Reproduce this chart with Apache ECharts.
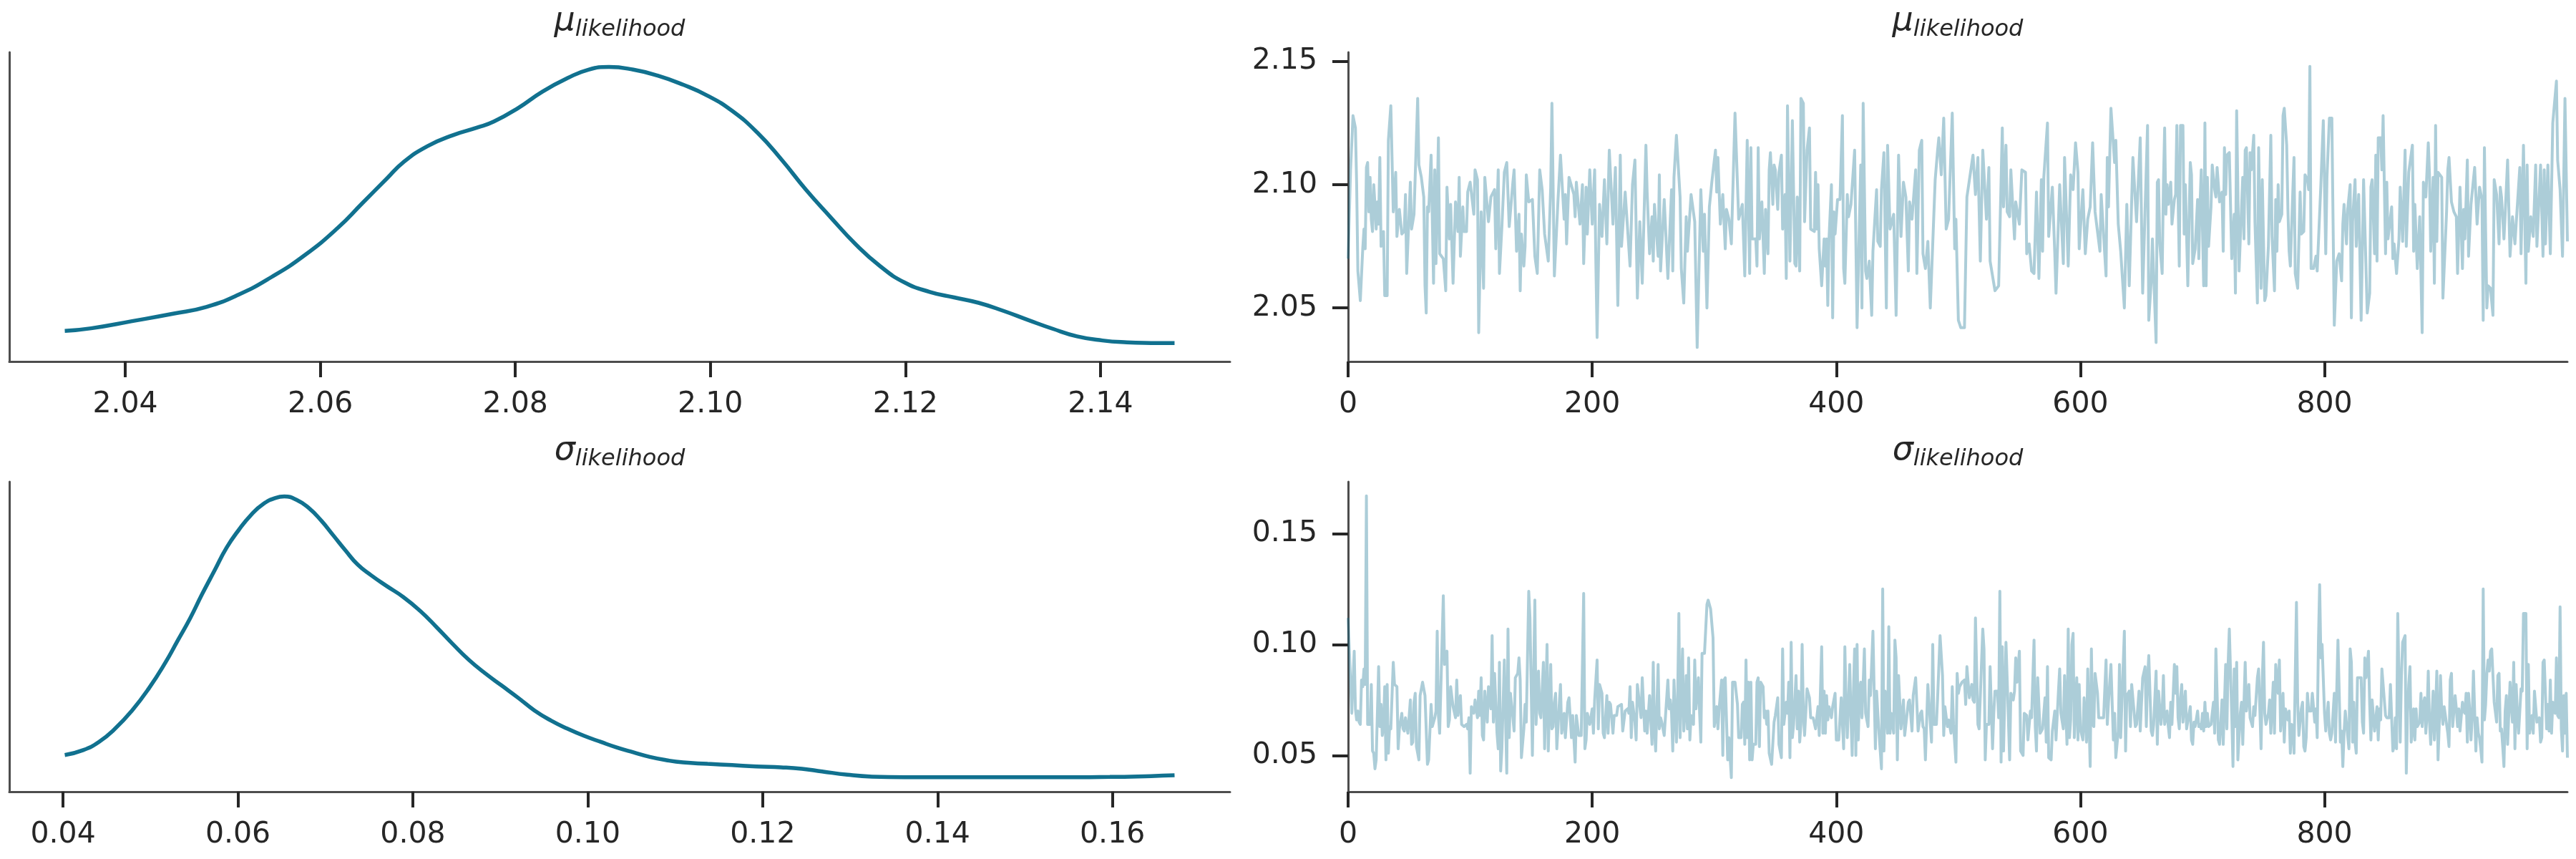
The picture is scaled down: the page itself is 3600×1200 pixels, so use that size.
<!DOCTYPE html>
<html><head><meta charset="utf-8">
<script src="https://cdn.jsdelivr.net/npm/echarts@6/dist/echarts.min.js"></script>
<style>html,body{margin:0;padding:0;background:#fff}#c{width:3600px;height:1200px}</style>
</head><body><div id="c"></div>
<script>
// ---------- data ----------
const muKdeX = [2.0338,2.0365,2.0407,2.0449,2.0483,2.0516,2.0550,2.0584,2.0618,2.0643,2.0668,2.0685,2.0710,2.0736,2.0761,2.0778,2.0803,2.0828,2.0854,2.0875,2.0896,2.0921,2.0946,2.0972,2.0997,2.1022,2.1048,2.1073,2.1098,2.1123,2.1149,2.1174,2.1199,2.1225,2.1250,2.1275,2.1301,2.1326,2.1351,2.1376,2.1402,2.1427,2.1452,2.1476];
const muKdeY = [1.93,2.10,2.55,3.02,3.45,4.22,5.34,6.72,8.45,10.00,11.55,12.59,13.62,14.31,14.79,15.17,16.03,17.07,17.93,18.45,18.62,18.45,18.07,17.50,16.81,15.86,14.48,12.76,10.86,9.14,7.41,6.03,5.00,4.40,4.05,3.71,3.19,2.62,2.07,1.59,1.33,1.21,1.17,1.16];
const sigmaKdeX = [0.0402,0.0423,0.0441,0.0460,0.0479,0.0498,0.0517,0.0531,0.0545,0.0559,0.0573,0.0587,0.0601,0.0615,0.0629,0.0643,0.0653,0.0667,0.0681,0.0695,0.0709,0.0723,0.0737,0.0752,0.0770,0.0789,0.0808,0.0827,0.0845,0.0864,0.0883,0.0902,0.0921,0.0939,0.0958,0.0977,0.0996,0.1015,0.1033,0.1052,0.1071,0.1090,0.1109,0.1137,0.1165,0.1193,0.1221,0.1245,0.1268,0.1297,0.1325,0.1362,0.1456,0.1550,0.1597,0.1644,0.1671];
const sigmaKdeY = [3.35,3.80,4.55,5.80,7.43,9.43,11.80,13.80,15.80,18.05,20.18,22.30,23.93,25.30,26.30,26.85,26.98,26.68,25.93,24.80,23.43,22.05,20.75,19.80,18.80,17.80,16.55,15.05,13.55,12.05,10.80,9.68,8.55,7.43,6.50,5.75,5.10,4.55,4.05,3.60,3.18,2.88,2.68,2.55,2.43,2.30,2.23,2.10,1.85,1.55,1.38,1.33,1.33,1.33,1.35,1.43,1.50];

// trace vertices: [draw, value]
const muTrace = [[0,2.070],[2,2.106],[4,2.128],[6,2.123],[7,2.100],[8,2.065],[10,2.053],[12,2.074],[13,2.082],[14,2.074],[15,2.107],[16,2.109],[17,2.089],[18,2.103],[19,2.086],[20,2.081],[21,2.100],[22,2.092],[23,2.082],[24,2.093],[25,2.084],[26,2.111],[27,2.075],[29,2.081],[30,2.055],[32,2.055],[33,2.118],[35,2.132],[37,2.089],[39,2.105],[40,2.079],[42,2.090],[44,2.080],[46,2.081],[47,2.096],[48,2.064],[51,2.101],[52,2.082],[54,2.088],[57,2.135],[58,2.108],[60,2.103],[62,2.095],[63,2.059],[64,2.048],[65,2.091],[66,2.089],[68,2.112],[70,2.060],[71,2.106],[72,2.068],[74,2.119],[75,2.072],[78,2.070],[80,2.057],[81,2.099],[83,2.078],[84,2.092],[86,2.060],[88,2.093],[90,2.081],[91,2.103],[92,2.071],[94,2.091],[95,2.081],[97,2.081],[98,2.097],[100,2.101],[103,2.088],[104,2.106],[106,2.102],[107,2.040],[109,2.089],[111,2.058],[112,2.103],[115,2.085],[117,2.095],[120,2.098],[121,2.074],[123,2.106],[124,2.064],[126,2.083],[128,2.105],[130,2.109],[132,2.083],[135,2.101],[136,2.106],[138,2.073],[140,2.088],[141,2.057],[142,2.080],[144,2.067],[145,2.075],[146,2.104],[148,2.093],[151,2.094],[153,2.071],[155,2.064],[157,2.106],[159,2.098],[161,2.080],[164,2.069],[166,2.099],[167,2.133],[169,2.063],[172,2.094],[174,2.112],[177,2.086],[178,2.096],[179,2.076],[181,2.103],[185,2.096],[186,2.087],[187,2.101],[190,2.084],[192,2.100],[193,2.068],[195,2.099],[196,2.080],[198,2.106],[200,2.084],[202,2.106],[203,2.068],[204,2.038],[206,2.092],[208,2.079],[210,2.102],[212,2.076],[214,2.114],[217,2.084],[219,2.107],[221,2.051],[223,2.112],[224,2.075],[227,2.097],[231,2.067],[233,2.100],[235,2.110],[237,2.054],[239,2.085],[241,2.060],[244,2.116],[245,2.097],[247,2.072],[249,2.087],[250,2.069],[251,2.092],[254,2.071],[255,2.104],[256,2.065],[259,2.094],[262,2.062],[265,2.098],[266,2.065],[267,2.103],[269,2.120],[272,2.095],[273,2.066],[275,2.052],[277,2.087],[278,2.073],[281,2.096],[284,2.085],[286,2.034],[289,2.098],[291,2.073],[292,2.088],[294,2.050],[296,2.091],[298,2.101],[301,2.114],[302,2.097],[303,2.111],[305,2.084],[307,2.096],[309,2.074],[310,2.090],[312,2.086],[314,2.076],[317,2.129],[320,2.086],[323,2.092],[325,2.063],[327,2.118],[329,2.064],[330,2.115],
[331,2.078],[334,2.078],[335,2.067],[336,2.115],[337,2.078],[339,2.093],[341,2.064],[342,2.090],[344,2.072],[345,2.106],[346,2.113],[348,2.092],[349,2.108],[350,2.106],[352,2.090],[353,2.105],[355,2.112],[356,2.082],[358,2.096],[359,2.062],[360,2.132],[362,2.069],[364,2.126],[366,2.068],[367,2.067],[368,2.095],[370,2.065],[371,2.135],[373,2.133],[374,2.085],[376,2.114],[378,2.123],[379,2.082],[382,2.081],[383,2.105],[384,2.082],[385,2.100],[386,2.074],[388,2.059],[390,2.078],[391,2.067],[392,2.078],[393,2.051],[394,2.078],[396,2.100],[397,2.046],[398,2.089],[399,2.080],[401,2.094],[403,2.094],[405,2.128],[406,2.066],[407,2.060],[409,2.096],[410,2.087],[412,2.092],[413,2.092],[415,2.114],[417,2.042],[420,2.108],[421,2.050],[422,2.133],[424,2.065],[425,2.062],[427,2.069],[429,2.047],[430,2.073],[433,2.098],[434,2.077],[436,2.075],[437,2.098],[439,2.113],[441,2.050],[442,2.116],[444,2.082],[447,2.088],[449,2.047],[451,2.112],[453,2.079],[455,2.101],[457,2.095],[459,2.065],[460,2.093],[462,2.086],[465,2.106],[466,2.064],[468,2.114],[470,2.118],[471,2.072],[473,2.066],[475,2.077],[477,2.050],[479,2.076],[481,2.102],[483,2.114],[484,2.119],[486,2.104],[488,2.127],[490,2.082],[492,2.086],[495,2.129],[497,2.074],[498,2.086],[500,2.045],[502,2.042],[503,2.042],[505,2.042],[507,2.095],[512,2.112],[514,2.096],[516,2.111],[518,2.069],[520,2.114],[523,2.086],[525,2.107],[526,2.069],[530,2.057],[533,2.059],[536,2.123],[537,2.091],[539,2.116],[540,2.089],[542,2.087],[543,2.106],[546,2.078],[547,2.093],[550,2.084],[552,2.106],[555,2.105],[556,2.072],[558,2.076],[560,2.065],[562,2.064],[564,2.097],[566,2.062],[568,2.102],[569,2.073],[570,2.103],[573,2.125],[574,2.079],[577,2.099],[579,2.072],[580,2.056],[583,2.100],[586,2.068],[587,2.111],[590,2.067],[592,2.104],[594,2.098],[596,2.117],[598,2.105],[599,2.074],[602,2.098],[604,2.072],[606,2.086],[608,2.091],[610,2.117],[612,2.089],[616,2.073],[617,2.096],[621,2.063],[622,2.111],[623,2.091],[625,2.131],[628,2.109],[629,2.118],[631,2.084],[633,2.073],[636,2.050],[638,2.092],[640,2.059],[643,2.111],[646,2.085],[649,2.119],[651,2.056],[655,2.124],[656,2.045],[658,2.061],[659,2.078],[662,2.036],[663,2.101],
[664,2.102],[665,2.076],[667,2.064],[668,2.100],[669,2.123],[670,2.088],[671,2.100],[672,2.092],[674,2.101],[675,2.084],[677,2.094],[678,2.096],[679,2.124],[681,2.067],[682,2.124],[684,2.124],[685,2.080],[686,2.100],[688,2.059],[689,2.059],[690,2.109],[691,2.104],[692,2.068],[694,2.074],[696,2.094],[697,2.070],[698,2.092],[699,2.106],[701,2.059],[702,2.125],[703,2.059],[704,2.103],[705,2.075],[707,2.091],[708,2.108],[710,2.098],[711,2.095],[712,2.107],[714,2.093],[716,2.097],[717,2.073],[718,2.115],[719,2.096],[720,2.112],[722,2.113],[724,2.070],[726,2.088],[727,2.056],[728,2.130],[730,2.065],[731,2.078],[733,2.103],[734,2.078],[735,2.114],[736,2.115],[738,2.076],[739,2.113],[740,2.106],[742,2.120],[743,2.085],[745,2.052],[746,2.115],[748,2.058],[749,2.102],[751,2.053],[752,2.055],[754,2.075],[756,2.120],[757,2.079],[759,2.057],[760,2.094],[761,2.073],[762,2.100],[763,2.085],[765,2.088],[766,2.128],[767,2.131],[769,2.116],[770,2.090],[771,2.073],[772,2.067],[774,2.097],[775,2.111],[776,2.064],[777,2.064],[778,2.058],[780,2.097],[781,2.080],[783,2.081],[784,2.104],[786,2.102],[787,2.098],[788,2.148],[789,2.066],[791,2.066],[793,2.071],[794,2.065],[797,2.100],[799,2.126],[801,2.072],[802,2.103],[804,2.127],[806,2.127],[808,2.043],[810,2.069],[812,2.072],[814,2.061],[815,2.084],[816,2.092],[818,2.076],[819,2.090],[821,2.100],[822,2.046],[823,2.085],[825,2.102],[826,2.075],[828,2.096],[830,2.045],[832,2.102],[833,2.102],[835,2.048],[837,2.056],[838,2.099],[839,2.102],[841,2.072],[842,2.112],[843,2.069],[844,2.119],[846,2.119],[847,2.106],[848,2.128],[850,2.072],[851,2.101],[852,2.078],[855,2.091],[856,2.070],[857,2.076],[859,2.064],[861,2.078],[862,2.099],[864,2.077],[866,2.114],[867,2.075],[869,2.105],[870,2.105],[872,2.116],[873,2.073],[874,2.092],[876,2.066],[878,2.087],[880,2.040],[881,2.101],[883,2.095],[885,2.117],[886,2.104],[887,2.073],[889,2.103],[890,2.060],[891,2.124],[892,2.077],[893,2.105],[896,2.103],[897,2.054],[898,2.054],[900,2.089],[901,2.106],[902,2.111],[904,2.093],[906,2.089],[908,2.087],[909,2.064],[911,2.099],[913,2.066],[914,2.090],[915,2.078],[917,2.110],[918,2.071],[920,2.092],[921,2.092],[923,2.107],[925,2.084],[927,2.099],[929,2.094],[930,2.045],[931,2.115],[932,2.081],[933,2.050],[934,2.059],[936,2.058],[938,2.047],[939,2.102],[941,2.096],[943,2.076],[944,2.099],[945,2.095],[947,2.078],[948,2.088],[950,2.110],[952,2.071],[954,2.087],[956,2.076],[957,2.084],[960,2.107],[961,2.072],[963,2.116],[965,2.060],[966,2.108],[967,2.073],[969,2.087],[971,2.079],[973,2.108],[974,2.075],[977,2.108],[979,2.071],[980,2.106],[981,2.076],[983,2.108],[985,2.072],[987,2.125],[988,2.125],[990,2.142],[991,2.110],[993,2.098],[995,2.071],[997,2.135],[999,2.077]];

const sigmaTrace = [[0,0.112],[3,0.069],[4,0.069],[5,0.097],[6,0.071],[7,0.066],[8,0.070],[9,0.065],[10,0.064],[11,0.084],[12,0.081],[13,0.089],[14,0.082],[15,0.167],[16,0.064],[18,0.064],[19,0.082],[20,0.052],[21,0.051],[22,0.044],[23,0.048],[25,0.090],[26,0.063],[27,0.073],[28,0.059],[29,0.063],[30,0.081],[31,0.048],[32,0.082],[33,0.051],[34,0.063],[35,0.062],[37,0.092],[38,0.082],[40,0.081],[41,0.053],[42,0.062],[44,0.069],[45,0.062],[46,0.061],[47,0.067],[49,0.060],[51,0.075],[52,0.055],[53,0.056],[54,0.074],[55,0.078],[56,0.054],[58,0.048],[59,0.077],[61,0.083],[62,0.083],[63,0.077],[65,0.046],[66,0.048],[68,0.073],[69,0.063],[71,0.067],[72,0.070],[73,0.106],[74,0.068],[75,0.060],[76,0.060],[78,0.122],[79,0.091],[81,0.097],[82,0.063],[83,0.066],[84,0.081],[86,0.072],[87,0.072],[88,0.067],[89,0.084],[90,0.068],[92,0.077],[93,0.064],[95,0.063],[97,0.064],[98,0.062],[99,0.067],[100,0.042],[101,0.072],[103,0.069],[104,0.075],[106,0.067],[107,0.079],[108,0.068],[109,0.085],[110,0.059],[111,0.057],[112,0.079],[114,0.065],[115,0.081],[117,0.071],[118,0.104],[119,0.065],[120,0.087],[122,0.060],[123,0.053],[124,0.092],[125,0.043],[126,0.053],[128,0.093],[130,0.042],[131,0.107],[132,0.058],[133,0.078],[135,0.067],[136,0.061],[137,0.085],[139,0.087],[140,0.094],[141,0.084],[142,0.049],[144,0.062],[145,0.073],[146,0.065],[148,0.124],[149,0.112],[151,0.050],[153,0.120],[154,0.064],[156,0.088],[157,0.069],[158,0.067],[160,0.092],[161,0.053],[162,0.053],[163,0.100],[164,0.052],[166,0.091],[167,0.062],[168,0.063],[169,0.074],[170,0.078],[171,0.053],[173,0.073],[174,0.082],[175,0.060],[177,0.069],[178,0.058],[180,0.074],[181,0.076],[183,0.058],[184,0.068],[186,0.047],[187,0.068],[189,0.059],[191,0.059],[193,0.123],[194,0.053],[195,0.057],[196,0.069],[198,0.064],[200,0.071],[201,0.060],[202,0.075],[204,0.093],[205,0.062],[206,0.082],[208,0.078],[209,0.060],[210,0.058],[212,0.077],[213,0.060],[214,0.074],[215,0.073],[217,0.060],[218,0.068],[220,0.068],[221,0.072],[222,0.072],[224,0.073],[225,0.061],[227,0.070],[229,0.071],[230,0.069],[231,0.081],[232,0.058],[233,0.074],[235,0.065],[236,0.057],[237,0.082],[238,0.082],[240,0.067],[241,0.085],[243,0.061],[244,0.070],[245,0.060],[247,0.077],[249,0.055],[250,0.092],[251,0.062],[252,0.052],[253,0.052],[254,0.091],[255,0.062],[256,0.067],[257,0.065],[259,0.059],[260,0.059],[262,0.084],[263,0.071],[264,0.075],[265,0.069],[266,0.052],[267,0.084],[269,0.056],[270,0.076],[271,0.114],[272,0.058],[274,0.098],[275,0.061],[276,0.069],[277,0.086],[278,0.062],[279,0.094],[280,0.057],[281,0.068],[283,0.064],[284,0.093],[285,0.071],[287,0.085],[288,0.069],[289,0.056],[290,0.096],[292,0.096],[294,0.118],[295,0.120],[297,0.116],[299,0.103],[300,0.063],[302,0.072],[303,0.062],[304,0.071],[306,0.084],[307,0.050],[308,0.084],[309,0.085],[311,0.048],[312,0.058],[314,0.040],[315,0.083],[317,0.083],[319,0.073],[320,0.058],[322,0.058],[323,0.073],[324,0.074],[325,0.055],[326,0.093],[327,0.058],[328,0.083],[329,0.048],[330,0.083],
[331,0.048],[332,0.055],[334,0.055],[335,0.083],[336,0.085],[337,0.054],[338,0.083],[340,0.081],[341,0.067],[342,0.070],[343,0.064],[344,0.070],[345,0.051],[347,0.046],[349,0.065],[350,0.068],[352,0.076],[353,0.055],[355,0.049],[356,0.098],[357,0.064],[359,0.074],[360,0.069],[361,0.083],[362,0.049],[363,0.101],[364,0.058],[365,0.064],[367,0.086],[368,0.062],[369,0.079],[370,0.056],[371,0.064],[372,0.100],[373,0.069],[374,0.059],[376,0.080],[378,0.076],[379,0.067],[381,0.067],[382,0.067],[383,0.062],[384,0.062],[385,0.072],[386,0.059],[388,0.099],[389,0.060],[390,0.079],[391,0.060],[392,0.077],[393,0.066],[394,0.072],[396,0.067],[397,0.072],[399,0.078],[400,0.057],[402,0.057],[404,0.076],[406,0.053],[407,0.099],[408,0.073],[409,0.058],[411,0.091],[412,0.067],[413,0.050],[414,0.078],[415,0.098],[416,0.050],[417,0.100],[418,0.057],[419,0.079],[420,0.083],[421,0.067],[423,0.098],[424,0.069],[426,0.063],[427,0.084],[428,0.077],[430,0.106],[432,0.053],[433,0.079],[434,0.069],[435,0.060],[437,0.044],[438,0.125],[439,0.052],[440,0.079],[442,0.060],[443,0.108],[444,0.060],[445,0.069],[447,0.060],[448,0.102],[449,0.094],[450,0.048],[451,0.086],[453,0.062],[454,0.069],[455,0.075],[456,0.059],[457,0.059],[459,0.074],[460,0.075],[462,0.061],[463,0.077],[465,0.085],[466,0.073],[467,0.061],[469,0.069],[470,0.070],[471,0.063],[472,0.062],[473,0.048],[475,0.082],[476,0.082],[478,0.056],[479,0.100],[480,0.064],[482,0.064],[483,0.076],[485,0.104],[487,0.086],[488,0.059],[489,0.072],[491,0.063],[492,0.066],[494,0.060],[495,0.081],[496,0.064],[498,0.047],[499,0.087],[500,0.078],[501,0.081],[502,0.081],[503,0.083],[505,0.084],[506,0.073],[507,0.090],[508,0.090],[509,0.076],[511,0.082],[512,0.075],[513,0.074],[514,0.112],[516,0.064],[517,0.062],[518,0.062],[520,0.107],[521,0.098],[522,0.048],[523,0.064],[525,0.064],[526,0.090],[528,0.053],[529,0.069],[530,0.079],[532,0.079],[533,0.067],[534,0.124],[535,0.047],[536,0.099],[537,0.052],[539,0.101],[540,0.084],[542,0.048],[543,0.078],[545,0.075],[546,0.079],[547,0.094],[548,0.083],[550,0.097],[551,0.052],[553,0.050],[554,0.069],[556,0.068],[557,0.057],[559,0.070],[560,0.067],[562,0.102],[563,0.063],[564,0.052],[565,0.085],[567,0.060],[568,0.061],[569,0.062],[571,0.076],[572,0.056],[573,0.090],[574,0.049],[576,0.048],[577,0.061],[579,0.070],[580,0.057],[582,0.079],[583,0.089],[584,0.069],[586,0.062],[587,0.086],[589,0.055],[590,0.107],[591,0.058],[592,0.066],[593,0.100],[594,0.105],[595,0.058],[597,0.085],[598,0.057],[599,0.082],[600,0.062],[602,0.057],[603,0.076],[604,0.076],[605,0.056],[606,0.089],[608,0.045],[609,0.098],[610,0.064],[611,0.063],[612,0.087],[614,0.078],[615,0.067],[617,0.067],[619,0.067],[621,0.093],[622,0.064],[623,0.074],[625,0.091],[627,0.057],[628,0.069],[629,0.049],[631,0.061],[632,0.091],[633,0.058],[634,0.058],[636,0.106],[637,0.052],[638,0.077],[640,0.079],[641,0.063],[642,0.082],[643,0.082],[645,0.063],[646,0.064],[648,0.079],[649,0.061],[651,0.085],[653,0.090],[654,0.063],[655,0.084],[656,0.095],[658,0.061],[659,0.059],[660,0.064],[662,0.088],[663,0.055],[664,0.079],
[665,0.079],[666,0.064],[667,0.070],[668,0.086],[669,0.064],[671,0.070],[672,0.063],[673,0.058],[674,0.074],[675,0.064],[677,0.091],[678,0.078],[679,0.090],[680,0.067],[681,0.062],[682,0.076],[683,0.082],[684,0.065],[686,0.079],[687,0.062],[688,0.062],[690,0.072],[691,0.057],[692,0.055],[693,0.065],[694,0.063],[696,0.070],[697,0.063],[698,0.064],[699,0.062],[700,0.069],[701,0.061],[702,0.074],[703,0.063],[704,0.069],[705,0.063],[707,0.064],[709,0.074],[710,0.060],[711,0.098],[713,0.057],[714,0.055],[715,0.055],[716,0.075],[717,0.055],[719,0.091],[720,0.062],[721,0.091],[722,0.107],[724,0.068],[725,0.045],[726,0.089],[727,0.063],[728,0.092],[729,0.048],[731,0.069],[732,0.074],[733,0.055],[735,0.092],[736,0.070],[737,0.070],[738,0.082],[739,0.067],[741,0.063],[742,0.072],[743,0.068],[745,0.085],[746,0.089],[747,0.089],[748,0.053],[749,0.084],[750,0.101],[751,0.069],[752,0.064],[754,0.069],[755,0.075],[756,0.060],[757,0.060],[758,0.083],[759,0.060],[760,0.091],[761,0.091],[762,0.078],[763,0.093],[764,0.061],[766,0.078],[767,0.056],[768,0.071],[770,0.066],[771,0.070],[772,0.051],[773,0.064],[774,0.063],[775,0.051],[776,0.051],[777,0.119],[778,0.074],[779,0.059],[781,0.071],[782,0.074],[783,0.054],[784,0.052],[785,0.058],[786,0.078],[787,0.070],[789,0.070],[790,0.078],[791,0.078],[792,0.065],[793,0.071],[794,0.058],[795,0.101],[796,0.127],[797,0.094],[798,0.100],[800,0.069],[801,0.061],[803,0.074],[804,0.060],[805,0.057],[806,0.060],[808,0.078],[809,0.056],[810,0.056],[811,0.102],[813,0.056],[814,0.061],[815,0.045],[816,0.060],[817,0.070],[818,0.070],[820,0.053],[821,0.098],[822,0.092],[823,0.056],[824,0.074],[825,0.056],[826,0.051],[827,0.085],[828,0.085],[830,0.085],[831,0.065],[832,0.060],[833,0.094],[834,0.085],[836,0.097],[837,0.073],[838,0.057],[839,0.075],[840,0.075],[841,0.061],[843,0.072],[844,0.057],[845,0.071],[846,0.066],[847,0.089],[848,0.089],[849,0.075],[850,0.068],[851,0.067],[853,0.067],[854,0.082],[855,0.082],[856,0.052],[857,0.054],[858,0.067],[859,0.053],[860,0.114],[861,0.114],[862,0.056],[863,0.086],[864,0.101],[866,0.104],[867,0.042],[868,0.069],[869,0.082],[870,0.090],[871,0.056],[872,0.061],[873,0.071],[874,0.057],[875,0.071],[876,0.063],[878,0.065],[879,0.078],[880,0.063],[881,0.073],[882,0.076],[883,0.060],[884,0.069],[885,0.088],[886,0.065],[887,0.055],[889,0.079],[890,0.057],[891,0.070],[892,0.088],[893,0.048],[894,0.064],[895,0.086],[896,0.070],[897,0.064],[898,0.072],[899,0.072],[901,0.060],[902,0.054],[903,0.084],[904,0.087],[905,0.063],[906,0.063],[907,0.077],[908,0.071],[909,0.063],[910,0.071],[911,0.061],[913,0.074],[914,0.070],[915,0.069],[916,0.078],[917,0.056],[918,0.078],[919,0.070],[920,0.057],[921,0.067],[922,0.088],[924,0.052],[925,0.067],[926,0.060],[927,0.058],[928,0.053],[929,0.047],[930,0.125],[931,0.066],[932,0.073],[933,0.087],[934,0.093],[935,0.088],[936,0.097],[937,0.098],[938,0.086],[939,0.074],[941,0.065],[942,0.086],[943,0.087],[944,0.061],[945,0.062],[946,0.054],[947,0.045],[948,0.070],[949,0.077],[950,0.055],[952,0.083],[953,0.072],[954,0.065],[955,0.092],[956,0.053],[957,0.082],[958,0.069],[959,0.060],[961,0.080],[962,0.079],[963,0.114],[965,0.114],[966,0.053],[967,0.091],[968,0.060],[969,0.060],[970,0.068],[971,0.060],[972,0.079],[973,0.079],[974,0.065],[976,0.067],[977,0.056],[978,0.058],[979,0.092],[980,0.093],[982,0.062],[983,0.073],[984,0.061],[985,0.084],[986,0.060],[987,0.074],[988,0.070],[989,0.069],[990,0.094],[991,0.068],[992,0.067],[993,0.117],[994,0.062],[995,0.052],[996,0.077],[997,0.060],[998,0.078],[999,0.049]];

const muKdeTicks = [2.04, 2.06, 2.08, 2.10, 2.12, 2.14];
const sigmaKdeTicks = [0.04, 0.06, 0.08, 0.10, 0.12, 0.14, 0.16];
const drawTicks = [0, 200, 400, 600, 800];
const muTraceTicks = [2.05, 2.10, 2.15];
const sigmaTraceTicks = [0.05, 0.10, 0.15];
const varSymbols = ['μ', 'σ'];
const varSub = 'likelihood';
const lastDraw = 999;

// ---------- styling ----------
const FONT = 'DejaVu Sans';
const SPINE = '#4d4d4d', TICK = '#262626', TEXT = '#262626';
const KDE_COLOR = '#11718f';
const TRACE_COLOR = 'rgba(17,113,143,0.35)';

function padRange(vals) {
  const lo = Math.min(...vals), hi = Math.max(...vals), m = (hi - lo) * 0.05;
  return [lo - m, hi + m];
}
const zip = (a, b) => a.map((v, i) => [v, b[i]]);
const fmt2 = v => Number(v).toFixed(2);

function tickedAxis(gi, range, ticks, fmt, margin) {
  return {
    type: 'value', gridIndex: gi, min: range[0], max: range[1],
    axisLine: { show: true, onZero: false, lineStyle: { color: SPINE, width: 3 } },
    axisTick: { show: true, customValues: ticks, length: 22, lineStyle: { color: TICK, width: 4 } },
    axisLabel: { show: true, customValues: ticks, formatter: fmt, margin: margin,
      color: TEXT, fontSize: 41, fontFamily: FONT },
    splitLine: { show: false }
  };
}
function bareY(gi, maxVal) {
  return {
    type: 'value', gridIndex: gi, min: 0, max: maxVal * 1.05,
    axisLine: { show: true, onZero: false, lineStyle: { color: SPINE, width: 3 } },
    axisTick: { show: false }, axisLabel: { show: false }, splitLine: { show: false }
  };
}

const grids = [
  { left: 13, top: 73, width: 1706, height: 432 },
  { left: 1884, top: 73, width: 1704, height: 432 },
  { left: 13, top: 673, width: 1706, height: 433 },
  { left: 1884, top: 673, width: 1704, height: 433 }
];

const muVals = muTrace.map(p => p[1]);
const sigVals = sigmaTrace.map(p => p[1]);

const rich = {
  a: { fontFamily: FONT, fontStyle: 'italic', fontWeight: 'normal', fontSize: 46, lineHeight: 36, color: TEXT, verticalAlign: 'middle' },
  b: { fontFamily: FONT, fontStyle: 'italic', fontWeight: 'normal', fontSize: 32, lineHeight: 36, padding: [24, 0, 0, 0], color: TEXT, verticalAlign: 'middle' }
};
function mkTitle(sym, cx, top) {
  return { text: '{a|' + sym + '}{b|' + varSub + '}', left: cx, top: top, textAlign: 'center',
    padding: 0, textStyle: { fontWeight: 'normal', rich: rich } };
}

const option = {
  animation: false,
  backgroundColor: '#ffffff',
  title: [
    mkTitle(varSymbols[0], 866, 12), mkTitle(varSymbols[0], 2736, 12),
    mkTitle(varSymbols[1], 866, 612), mkTitle(varSymbols[1], 2736, 612)
  ],
  grid: grids,
  xAxis: [
    tickedAxis(0, padRange(muKdeX), muKdeTicks, fmt2, 40),
    tickedAxis(1, [0, lastDraw], drawTicks, v => String(Math.round(v)), 40),
    tickedAxis(2, padRange(sigmaKdeX), sigmaKdeTicks, fmt2, 40),
    tickedAxis(3, [0, lastDraw], drawTicks, v => String(Math.round(v)), 40)
  ],
  yAxis: [
    bareY(0, Math.max(...muKdeY)),
    tickedAxis(1, padRange(muVals), muTraceTicks, fmt2, 43),
    bareY(2, Math.max(...sigmaKdeY)),
    tickedAxis(3, padRange(sigVals), sigmaTraceTicks, fmt2, 43)
  ],
  series: [
    { type: 'line', xAxisIndex: 0, yAxisIndex: 0, data: zip(muKdeX, muKdeY), smooth: true,
      showSymbol: false, lineStyle: { color: KDE_COLOR, width: 5.5 } },
    { type: 'line', xAxisIndex: 1, yAxisIndex: 1, data: muTrace, showSymbol: false,
      lineStyle: { color: TRACE_COLOR, width: 4, join: 'round' } },
    { type: 'line', xAxisIndex: 2, yAxisIndex: 2, data: zip(sigmaKdeX, sigmaKdeY), smooth: true,
      showSymbol: false, lineStyle: { color: KDE_COLOR, width: 5.5 } },
    { type: 'line', xAxisIndex: 3, yAxisIndex: 3, data: sigmaTrace, showSymbol: false,
      lineStyle: { color: TRACE_COLOR, width: 4, join: 'round' } }
  ]
};

const chart = echarts.init(document.getElementById('c'), null, { renderer: 'canvas' });
chart.setOption(option);
</script>
</body></html>
